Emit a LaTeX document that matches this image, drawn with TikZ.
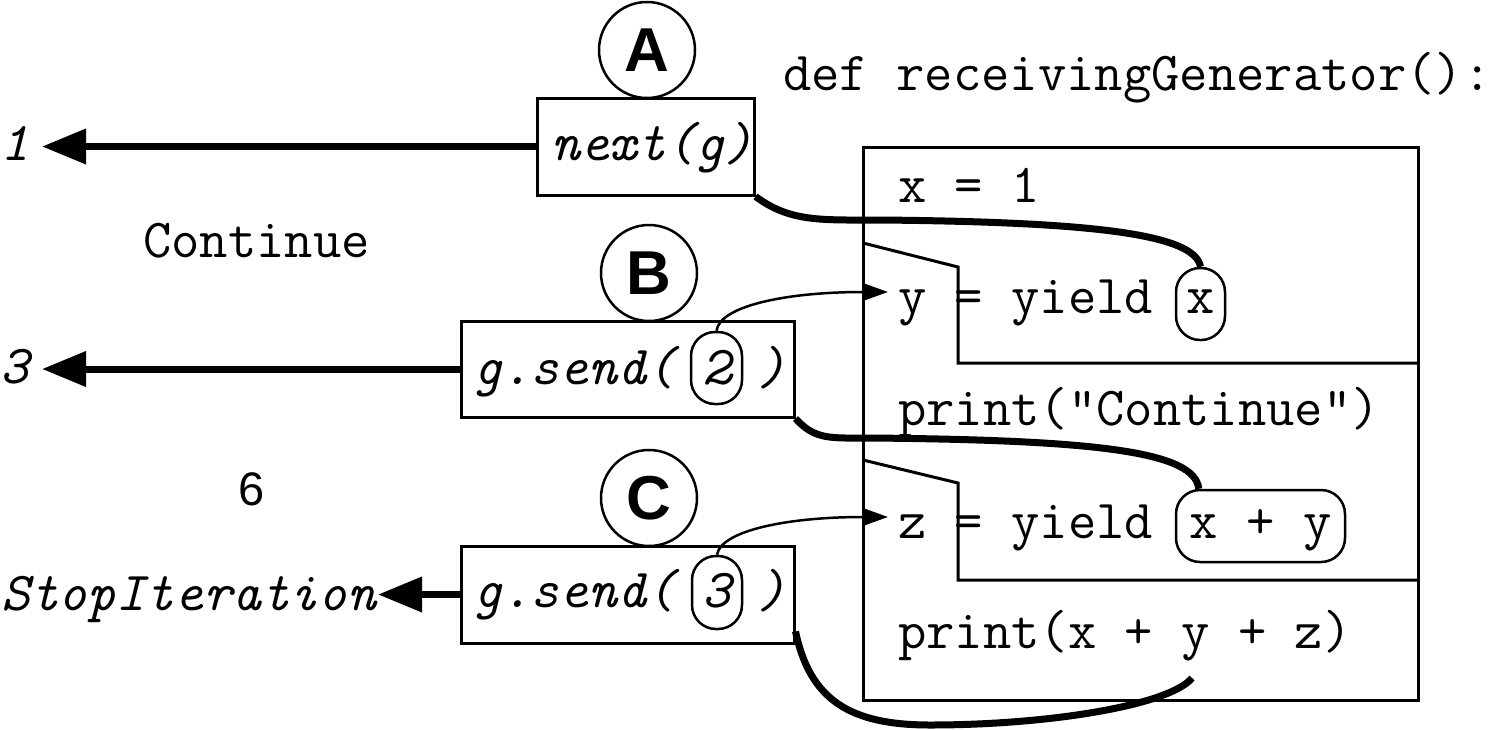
\documentclass[tikz,border=0pt]{standalone}
\usepackage{fontspec}
\setsansfont{Liberation Sans}
\usetikzlibrary{arrows.meta}
\begin{document}
\begin{tikzpicture}[x=1pt,y=-1pt,
  mono/.style={font=\fontsize{55}{62}\selectfont\ttfamily, inner sep=0pt, anchor=base west},
  monoit/.style={font=\fontsize{55}{62}\selectfont\ttfamily\itshape, inner sep=0pt, anchor=base west},
  callbox/.style={draw, line width=3pt, rectangle, inner sep=0pt},
  letter/.style={draw, circle, line width=2.5pt, minimum size=96pt, inner sep=0pt, font=\fontsize{62}{70}\selectfont\sffamily\bfseries},
  pill/.style={draw, line width=2.5pt, rounded corners=24pt, inner sep=0pt, minimum height=72pt, font=\fontsize{55}{62}\selectfont\ttfamily},
  bigarrow/.style={line width=7pt, -{Triangle[length=44pt,width=34pt]}},
  thinarrow/.style={line width=2.5pt, -{Triangle[length=26pt,width=18pt]}},
  thickline/.style={line width=7pt},
  frame/.style={line width=3pt}
]
\useasboundingbox (0,0) rectangle (1497,729);

% code block
\draw[frame] (863,147) rectangle (1418,700);
\draw[frame] (863,243) -- (958,267) -- (958,363) -- (1418,363);
\draw[frame] (863,460) -- (958,483) -- (958,580) -- (1418,580);

\node[mono] (def) at (783,90) {def receivingGenerator():};
\node[mono] (l1) at (898,202) {x = 1};
\node[mono] (l2) at (898,313) {y = yield};
\node[pill, minimum width=49pt, text height=28pt, text depth=10pt] (px) at (1200.5,304) {x};
\node[mono] (l3) at (898,425) {print("Continue")};
\node[mono] (l4) at (898,538) {z = yield};
\node[pill, minimum width=169pt, text height=30pt, text depth=6pt] (pxy) at (1260.5,526) {x + y};
\node[mono] (l5) at (898,648) {print(x + y + z)};

% calls
\node[callbox, minimum width=217pt, minimum height=97pt] (boxA) at (645.5,146.5) {};
\node[monoit] (tA) at (551,160) {next(g)};
\node[letter] (cA) at (647,50) {A};

\node[callbox, minimum width=333pt, minimum height=96pt] (boxB) at (627.5,369) {};
\node[monoit] (tB) at (473,384) {g.send(};
\node[pill, font=\fontsize{55}{62}\selectfont\ttfamily\itshape, minimum width=51pt, text height=36pt, text depth=4pt] (p2) at (716.5,368) {2};
\node[monoit] (tB2) at (757,384) {)};
\node[letter] (cB) at (649,273) {B};

\node[callbox, minimum width=333pt, minimum height=97pt] (boxC) at (627.5,594.5) {};
\node[monoit] (tC) at (473,607) {g.send(};
\node[pill, font=\fontsize{55}{62}\selectfont\ttfamily\itshape, minimum width=50pt, minimum height=73pt, text height=33pt, text depth=4pt] (p3) at (717,592.5) {3};
\node[monoit] (tC2) at (757,607) {)};
\node[letter] (cC) at (649,498) {C};

% outputs
\node[monoit] (o1) at (0,160) {1};
\node[monoit] (o3) at (0,383) {3};
\node[monoit] (o4) at (1,610) {StopIteration};
\node[mono] (cont) at (143,257) {Continue};
\node[font=\fontsize{47}{56}\selectfont\sffamily, inner sep=0pt, anchor=base west] (six) at (238,505) {6};

\coordinate (t1) at (42,146.5);
\coordinate (t3) at (42,369);
\coordinate (t4) at (378,594.5);
\draw[bigarrow] (boxA.west) -- (t1);
\draw[bigarrow] (boxB.west) -- (t3);
\draw[bigarrow] (boxC.west) -- (t4);

% sent values
\coordinate (ty) at (888,292);
\coordinate (tz) at (888,517);
\draw[thinarrow] (p2.north) .. controls (720,305) and (790,292) .. (ty);
\draw[thinarrow] (p3.north) .. controls (721,530) and (790,517) .. (tz);

% execution flow
\coordinate (e5) at (1192,678);
\draw[thickline] (boxA.south east) .. controls (790,222) and (820,220) .. (880,220) .. controls (1100,222) and (1195,235) .. (px.north);
\draw[thickline] (boxB.south east) .. controls (815,440) and (830,438) .. (870,438) .. controls (1100,440) and (1195,452) .. ([xshift=24pt]pxy.north west);
\draw[thickline] ([yshift=13pt]boxC.south east) .. controls (810,700) and (850,725) .. (930,725) .. controls (1050,725) and (1170,705) .. (e5);
\end{tikzpicture}
\end{document}
